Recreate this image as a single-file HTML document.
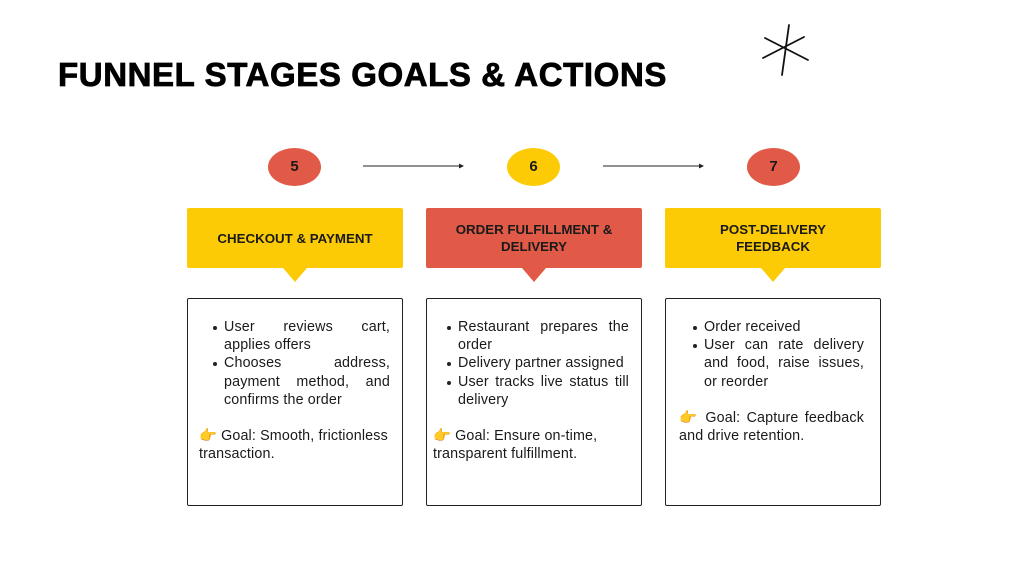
<!DOCTYPE html>
<html><head><meta charset="utf-8"><style>
*{margin:0;padding:0;box-sizing:border-box}
body{width:1024px;height:576px;background:#fff;position:relative;overflow:hidden;font-family:"Liberation Sans",sans-serif;color:#1a1a1a}
.abs{position:absolute}
h1{position:absolute;left:58px;top:56px;font-size:33px;font-weight:900;letter-spacing:0.6px;color:#000;-webkit-text-stroke:0.8px #000}
.circ{position:absolute;width:53px;height:38px;border-radius:50%;top:148px;font-weight:bold;font-size:15px;text-align:center;line-height:38px;color:#1a1a1a}
.hdr{position:absolute;top:208px;width:216px;height:60px;border-radius:2px;display:flex;align-items:center;justify-content:center;text-align:center;font-weight:bold;font-size:13.3px;line-height:17px;color:#1a1a1a;padding:0 22px}
.hdr:after{content:"";position:absolute;left:96px;bottom:-14px;border-left:12px solid transparent;border-right:12px solid transparent;border-top:14px solid var(--c)}
.box{position:absolute;top:298px;width:216px;height:208px;border:1.3px solid #222;border-radius:2px;font-size:14.3px;letter-spacing:0.15px;line-height:18.2px;padding:19px 12px 0 11px}
ul{list-style:none;padding-left:25px;text-align:justify}
li{position:relative}
li:before{content:"";position:absolute;left:-11px;top:8px;width:4px;height:4px;border-radius:50%;background:#222}
.goal{margin-top:18px}
.y{background:#fccb05}.r{background:#e15a47}
</style></head><body>
<h1>FUNNEL STAGES GOALS &amp; ACTIONS</h1>
<svg class="abs" style="left:0;top:0" width="1024" height="576">
<g stroke="#111" stroke-width="1.8" stroke-linecap="round"><line x1="789" y1="25" x2="782" y2="75"/><line x1="765" y1="38" x2="808" y2="60"/><line x1="763" y1="58" x2="804" y2="37"/></g>
<g stroke="#222" stroke-width="1"><line x1="363" y1="166" x2="462" y2="166"/><line x1="603" y1="166" x2="702" y2="166"/></g>
<polygon points="464,166 459,163.5 459,168.5" fill="#222"/><polygon points="704,166 699,163.5 699,168.5" fill="#222"/>
</svg>
<div class="circ r" style="left:268px">5</div>
<div class="circ y" style="left:507px">6</div>
<div class="circ r" style="left:747px">7</div>
<div class="hdr y" style="left:187px;--c:#fccb05">CHECKOUT &amp; PAYMENT</div>
<div class="hdr r" style="left:426px;--c:#e15a47">ORDER FULFILLMENT &amp; DELIVERY</div>
<div class="hdr y" style="left:665px;--c:#fccb05;padding:0 45px">POST-DELIVERY FEEDBACK</div>
<div class="box" style="left:187px"><ul><li>User reviews cart, applies offers</li><li>Chooses address, payment method, and confirms the order</li></ul><div class="goal">👉 Goal: Smooth, frictionless transaction.</div></div>
<div class="box" style="left:426px;padding-left:6px"><ul><li>Restaurant prepares the order</li><li style="text-align:left">Delivery partner assigned</li><li>User tracks live status till delivery</li></ul><div class="goal">👉 Goal: Ensure on-time, transparent fulfillment.</div></div>
<div class="box" style="left:665px;padding-left:13px;padding-right:16px"><ul><li>Order received</li><li>User can rate delivery and food, raise issues, or reorder</li></ul><div class="goal" style="text-align:justify">👉 Goal: Capture feedback and drive retention.</div></div>
</body></html>
